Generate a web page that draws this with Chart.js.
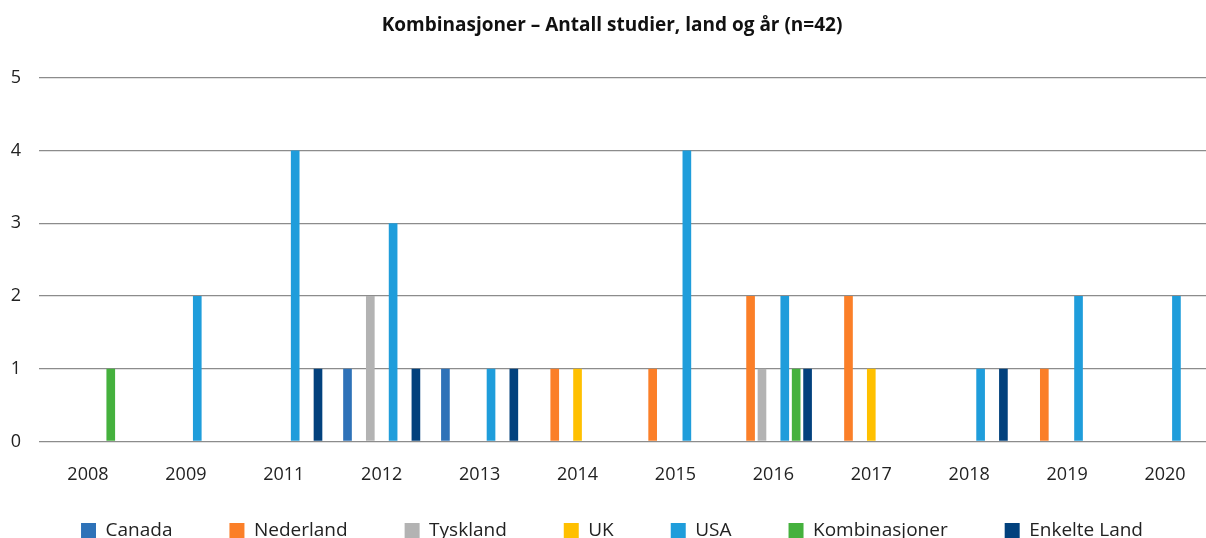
<!DOCTYPE html>
<html>
<head>
<meta charset="utf-8">
<script src="https://cdn.jsdelivr.net/npm/chart.js@4.4.0/dist/chart.umd.min.js"></script>
<style>
  html, body { margin: 0; padding: 0; background: #fff; overflow: hidden; }
  #wrap { position: relative; width: 1224px; height: 595px; }
</style>
</head>
<body>
<div id="wrap"><canvas id="chart"></canvas></div>
<script>
const years = ['2008', '2009', '2011', '2012', '2013', '2014', '2015', '2016', '2017', '2018', '2019', '2020'];

const canada        = [0, 0, 0, 1, 1, 0, 0, 0, 0, 0, 0, 0];
const nederland     = [0, 0, 0, 0, 0, 1, 1, 2, 2, 0, 1, 0];
const tyskland      = [0, 0, 0, 2, 0, 0, 0, 1, 0, 0, 0, 0];
const uk            = [0, 0, 0, 0, 0, 1, 0, 0, 1, 0, 0, 0];
const usa           = [0, 2, 4, 3, 1, 0, 4, 2, 0, 1, 2, 2];
const kombinasjoner = [1, 0, 0, 0, 0, 0, 0, 1, 0, 0, 0, 0];
const enkelteLand   = [0, 0, 1, 1, 1, 0, 0, 1, 0, 1, 0, 0];

const yTicks = [0, 1, 2, 3, 4, 5];

const FONT = "'Open Sans', 'Noto Sans', sans-serif";

function series(label, data, color) {
    return { label: label, data: data, backgroundColor: color, borderWidth: 0,
             categoryPercentage: 0.815, barPercentage: 0.76 };
}

// legend padding is wide between items, but the row should sit closer to the axis
const legendNudge = {
    id: 'legendNudge',
    afterLayout(chart) {
        const l = chart.legend;
        l.top -= 45;
        l.bottom -= 45;
    }
};

const ctx = document.getElementById('chart').getContext('2d');
new Chart(ctx, {
    type: 'bar',
    data: {
        labels: years,
        datasets: [
            series('Canada', canada, '#2e72b8'),
            series('Nederland', nederland, '#fb7f28'),
            series('Tyskland', tyskland, '#b3b3b3'),
            series('UK', uk, '#ffc000'),
            series('USA', usa, '#1f9ddb'),
            series('Kombinasjoner', kombinasjoner, '#45b13d'),
            series('Enkelte Land', enkelteLand, '#02417d')
        ]
    },
    plugins: [legendNudge],
    options: {
        responsive: true,
        maintainAspectRatio: false,
        animation: false,
        layout: { padding: { left: 10, right: 10, top: 14, bottom: 0 } },
        plugins: {
            title: {
                display: true,
                text: 'Kombinasjoner – Antall studier, land og år (n=42)',
                color: '#111',
                font: { family: FONT, size: 19, weight: 'bold' },
                padding: { top: 0, bottom: 41 }
            },
            legend: {
                position: 'bottom',
                labels: {
                    color: '#222',
                    font: { family: FONT, size: 19 },
                    boxWidth: 15,
                    boxHeight: 15,
                    padding: 57
                }
            },
            tooltip: { enabled: false }
        },
        scales: {
            x: {
                grid: { display: false, drawTicks: false },
                border: { display: false },
                ticks: { color: '#222', font: { family: FONT, size: 18 }, padding: 23 }
            },
            y: {
                min: 0,
                max: 5,
                afterBuildTicks: axis => { axis.ticks = yTicks.map(v => ({ value: v })); },
                afterFit: axis => { axis.width = 29; },
                grid: { color: '#8c8c8c', lineWidth: 1.3, drawTicks: false },
                border: { display: false },
                ticks: { color: '#222', font: { family: FONT, size: 18 }, padding: 18 }
            }
        }
    }
});
</script>
</body>
</html>
